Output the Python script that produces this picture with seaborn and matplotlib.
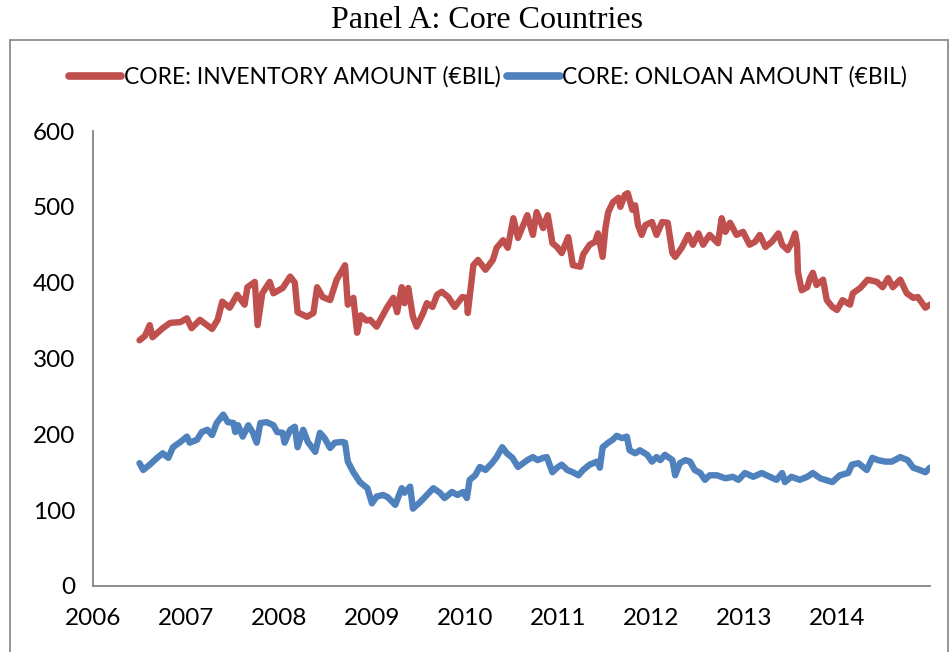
import matplotlib
matplotlib.use("Agg")
import matplotlib.pyplot as plt
from matplotlib.patches import Rectangle
import seaborn as sns
import pandas as pd

# core countries, inventory amount (EUR bil)
inv_year = [2006.50, 2006.56, 2006.61, 2006.64, 2006.75, 2006.83, 2006.94, 2007.01, 2007.06, 2007.15,
            2007.28, 2007.34, 2007.39, 2007.47, 2007.55, 2007.63, 2007.66, 2007.74, 2007.77, 2007.82,
            2007.90, 2007.94, 2008.04, 2008.12, 2008.17, 2008.20, 2008.30, 2008.37, 2008.41, 2008.47,
            2008.55, 2008.62, 2008.71, 2008.74, 2008.80, 2008.84, 2008.88, 2008.94, 2008.98, 2009.05,
            2009.16, 2009.23, 2009.27, 2009.32, 2009.35, 2009.39, 2009.44, 2009.48, 2009.55, 2009.59,
            2009.65, 2009.70, 2009.75, 2009.82, 2009.89, 2009.97, 2010.02, 2010.03, 2010.09, 2010.14,
            2010.22, 2010.30, 2010.34, 2010.41, 2010.46, 2010.52, 2010.57, 2010.67, 2010.73, 2010.77,
            2010.84, 2010.89, 2010.94, 2010.99, 2011.04, 2011.11, 2011.16, 2011.24, 2011.27, 2011.34,
            2011.40, 2011.43, 2011.48, 2011.51, 2011.54, 2011.59, 2011.65, 2011.67, 2011.72, 2011.75,
            2011.80, 2011.83, 2011.86, 2011.90, 2011.94, 2012.01, 2012.06, 2012.12, 2012.18, 2012.23,
            2012.26, 2012.33, 2012.40, 2012.45, 2012.51, 2012.56, 2012.63, 2012.72, 2012.76, 2012.80,
            2012.85, 2012.92, 2012.99, 2013.06, 2013.12, 2013.17, 2013.23, 2013.30, 2013.37, 2013.41,
            2013.47, 2013.51, 2013.55, 2013.57, 2013.58, 2013.62, 2013.68, 2013.71, 2013.74, 2013.78,
            2013.85, 2013.89, 2013.95, 2014.00, 2014.06, 2014.14, 2014.17, 2014.25, 2014.33, 2014.43,
            2014.49, 2014.55, 2014.60, 2014.68, 2014.75, 2014.82, 2014.87, 2014.95, 2015.00]
inv_value = [324, 330, 344, 328, 340, 347, 348, 353, 340, 351,
             339, 351, 375, 367, 384, 371, 394, 401, 344, 386,
             401, 386, 393, 408, 400, 361, 355, 360, 394, 381,
             377, 404, 423, 371, 380, 334, 357, 350, 351, 342,
             367, 380, 361, 394, 373, 393, 355, 342, 360, 373,
             368, 384, 388, 381, 368, 381, 380, 360, 423, 430,
             417, 430, 446, 456, 446, 485, 459, 489, 463, 493,
             472, 489, 452, 447, 439, 460, 423, 421, 437, 450,
             454, 465, 434, 472, 493, 506, 512, 500, 516, 518,
             496, 502, 476, 463, 476, 480, 463, 480, 479, 439,
             434, 446, 463, 450, 465, 450, 463, 452, 485, 467,
             479, 463, 467, 450, 454, 463, 447, 454, 465, 450,
             443, 452, 465, 450, 414, 390, 394, 406, 413, 397,
             404, 377, 368, 364, 377, 371, 386, 393, 404, 401,
             394, 406, 394, 404, 386, 380, 381, 367, 371]

# core countries, onloan amount (EUR bil)
loan_year = [2006.50, 2006.54, 2006.61, 2006.69, 2006.75, 2006.81, 2006.86, 2006.94, 2007.01, 2007.04,
             2007.12, 2007.17, 2007.23, 2007.28, 2007.33, 2007.40, 2007.45, 2007.51, 2007.53, 2007.56,
             2007.61, 2007.67, 2007.72, 2007.76, 2007.80, 2007.87, 2007.94, 2007.98, 2008.04, 2008.06,
             2008.12, 2008.17, 2008.20, 2008.26, 2008.31, 2008.39, 2008.44, 2008.49, 2008.55, 2008.60,
             2008.68, 2008.71, 2008.74, 2008.80, 2008.87, 2008.95, 2009.00, 2009.05, 2009.12, 2009.17,
             2009.25, 2009.32, 2009.35, 2009.41, 2009.44, 2009.52, 2009.59, 2009.66, 2009.73, 2009.78,
             2009.86, 2009.92, 2009.98, 2010.02, 2010.05, 2010.11, 2010.16, 2010.22, 2010.29, 2010.34,
             2010.40, 2010.45, 2010.51, 2010.57, 2010.67, 2010.73, 2010.78, 2010.84, 2010.88, 2010.94,
             2010.99, 2011.04, 2011.10, 2011.16, 2011.22, 2011.27, 2011.34, 2011.42, 2011.45, 2011.48,
             2011.54, 2011.59, 2011.63, 2011.69, 2011.74, 2011.77, 2011.83, 2011.88, 2011.96, 2012.01,
             2012.06, 2012.10, 2012.15, 2012.23, 2012.26, 2012.31, 2012.37, 2012.42, 2012.47, 2012.53,
             2012.58, 2012.63, 2012.71, 2012.80, 2012.88, 2012.94, 2013.01, 2013.10, 2013.19, 2013.28,
             2013.35, 2013.41, 2013.44, 2013.51, 2013.60, 2013.68, 2013.74, 2013.82, 2013.95, 2014.03,
             2014.12, 2014.16, 2014.23, 2014.28, 2014.32, 2014.38, 2014.44, 2014.52, 2014.59, 2014.68,
             2014.76, 2014.82, 2014.89, 2014.95, 2015.00]
loan_value = [162, 153, 160, 169, 175, 169, 183, 190, 197, 189,
              193, 203, 206, 199, 215, 226, 216, 215, 203, 212,
              197, 212, 202, 189, 215, 216, 212, 203, 202, 189,
              206, 210, 183, 206, 190, 177, 202, 195, 182, 189,
              190, 189, 164, 150, 137, 129, 109, 118, 120, 117,
              107, 129, 123, 131, 102, 111, 120, 129, 123, 116,
              124, 120, 124, 116, 140, 146, 157, 153, 162, 170,
              183, 175, 169, 157, 166, 170, 166, 169, 170, 150,
              156, 160, 153, 150, 146, 153, 160, 164, 156, 183,
              189, 193, 198, 195, 197, 179, 175, 179, 173, 164,
              170, 166, 173, 166, 146, 162, 166, 164, 153, 149,
              140, 146, 146, 142, 144, 140, 149, 144, 149, 144,
              140, 149, 137, 144, 140, 144, 149, 142, 137, 146,
              149, 160, 162, 157, 153, 169, 166, 164, 164, 170,
              166, 156, 153, 150, 156]

series_names = ["CORE: INVENTORY AMOUNT (€BIL)", "CORE: ONLOAN AMOUNT (€BIL)"]
colors = ["#C0504D", "#4F81BD"]
year_ticks = list(range(2006, 2015))
y_ticks = [0, 100, 200, 300, 400, 500, 600]

df = pd.concat([
    pd.DataFrame({"year": inv_year, "amount": inv_value, "series": series_names[0]}),
    pd.DataFrame({"year": loan_year, "amount": loan_value, "series": series_names[1]}),
])

sns.set_style("white")
plt.rcParams['font.family'] = ['Lato', 'DejaVu Sans']
plt.rcParams['text.color'] = 'black'

fig = plt.figure(figsize=(9.51, 6.52), dpi=100)
ax = fig.add_axes([93/951, 66/652, (930-93)/951, (586-131)/652])

sns.lineplot(data=df, x="year", y="amount", hue="series", palette=colors,
             estimator=None, sort=True, lw=4.6, ax=ax, legend=False,
             solid_capstyle="round", solid_joinstyle="round")

ax.set_xlim(2006, 2015)
ax.set_ylim(0, 600)
ax.set_xticks(year_ticks)
ax.set_xticklabels([str(y) for y in year_ticks])
ax.set_yticks(y_ticks)
ax.set_xlabel("")
ax.set_ylabel("")

axis_grey = "#868686"
for side in ["top", "right"]:
    ax.spines[side].set_visible(False)
for side in ["left", "bottom"]:
    ax.spines[side].set_color(axis_grey)
    ax.spines[side].set_linewidth(1.3)
ax.tick_params(axis="both", direction="out", length=7, width=1.3, color=axis_grey,
               labelsize=17.5, labelcolor="black")
ax.tick_params(axis="x", pad=9)
ax.tick_params(axis="y", pad=6)
ax.set_facecolor("none")

# legend on top, Excel style
handles = [plt.Line2D([], [], color=c, lw=5.5, solid_capstyle="round") for c in colors]
fig.legend(handles, series_names, loc="center", bbox_to_anchor=(0.513, 0.882), ncol=2,
           frameon=False, fontsize=16.5, handlelength=2.3, handletextpad=0.1,
           columnspacing=0.3, labelcolor="black")

# chart frame and panel title
fig.patches.append(Rectangle((10/951, -0.05), (948-10)/951, 1.05 - 40/652,
                             transform=fig.transFigure, fill=False,
                             edgecolor="#8C8C8C", lw=1.3))
fig.text(0.512, 1 - 20/652, "Panel A: Core Countries", ha="center", va="center",
         fontsize=23, color="black", family=["Liberation Serif", "DejaVu Serif"])

fig.savefig("out.png", dpi=100)
